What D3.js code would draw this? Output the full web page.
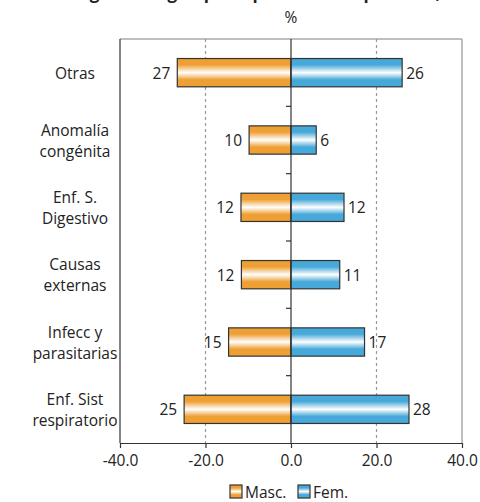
<!DOCTYPE html>
<html><head><meta charset="utf-8">
<script src="https://cdn.jsdelivr.net/npm/d3@7"></script>
<style>body{margin:0;background:#fff}svg{display:block}</style>
</head><body>
<svg id="c" width="480" height="502"></svg>
<script>
const categories = [["Otras"],["Anomalía","congénita"],["Enf. S.","Digestivo"],["Causas","externas"],["Infecc y","parasitarias"],["Enf. Sist","respiratorio"]];
const masc = [26.6, 9.8, 11.7, 11.6, 14.6, 25.0];
const fem = [26.0, 5.9, 12.4, 11.4, 17.2, 27.6];
const xTicks = [-40, -20, 0, 20, 40];
const seriesNames = ["Masc.", "Fem."];

const svg = d3.select("#c");
const font = "'Open Sans', 'DejaVu Sans', sans-serif";
const FS = 15.5;
const L = 120, R = 462, T = 39, B = 443;
const x = d3.scaleLinear().domain([-40, 40]).range([L, R]);
const y = d3.scaleBand().domain(d3.range(categories.length)).range([T, B]).paddingInner(0.58).paddingOuter(0.29);

const defs = svg.append("defs");
function grad(id, c) {
  const g = defs.append("linearGradient").attr("id", id).attr("x1", 0).attr("y1", 0).attr("x2", 0).attr("y2", 1);
  g.append("stop").attr("offset", "0%").attr("stop-color", c);
  g.append("stop").attr("offset", "22%").attr("stop-color", c);
  g.append("stop").attr("offset", "50%").attr("stop-color", "#ffffff");
  g.append("stop").attr("offset", "75%").attr("stop-color", c);
  g.append("stop").attr("offset", "100%").attr("stop-color", c);
}
grad("gO", "#efa035");
grad("gB", "#46a9d9");

// title (cut off at the top edge, as in the reference)
svg.append("text").attr("x", 282).attr("y", -1).attr("text-anchor", "middle")
  .attr("font-family", font).attr("font-weight", "bold").attr("font-size", 17).attr("fill", "#222")
  .text("Egresos según principales causas por sexo, 2012");

svg.append("text").attr("x", x(0)).attr("y", 23).attr("text-anchor", "middle")
  .attr("font-family", font).attr("font-size", FS).attr("fill", "#222").text("%");

// frame
svg.append("line").attr("x1", L).attr("x2", R).attr("y1", T).attr("y2", T).attr("stroke", "#aaa").attr("stroke-width", 1.5);
svg.append("line").attr("x1", R).attr("x2", R).attr("y1", T).attr("y2", B).attr("stroke", "#aaa").attr("stroke-width", 1.5);
svg.append("line").attr("x1", L).attr("x2", L).attr("y1", T).attr("y2", B).attr("stroke", "#333").attr("stroke-width", 1.2);

// grid
svg.selectAll(".grid").data([-20, 20]).enter().append("line")
  .attr("x1", d => x(d)).attr("x2", d => x(d)).attr("y1", T).attr("y2", B)
  .attr("stroke", "#999").attr("stroke-width", 1.2).attr("stroke-dasharray", "3,3");

// bars
const g = svg.append("g");
g.selectAll(".m").data(masc).enter().append("rect")
  .attr("x", d => x(-d)).attr("width", d => x(0) - x(-d))
  .attr("y", (d, i) => y(i)).attr("height", y.bandwidth())
  .attr("fill", "url(#gO)").attr("stroke", "#333").attr("stroke-width", 1.2);
g.selectAll(".f").data(fem).enter().append("rect")
  .attr("x", x(0)).attr("width", d => x(d) - x(0))
  .attr("y", (d, i) => y(i)).attr("height", y.bandwidth())
  .attr("fill", "url(#gB)").attr("stroke", "#333").attr("stroke-width", 1.2);

// value labels
g.selectAll(".ml").data(masc).enter().append("text")
  .attr("x", d => x(-d) - 7).attr("y", (d, i) => y(i) + y.bandwidth() / 2 + 6)
  .attr("text-anchor", "end").attr("font-family", font).attr("font-size", FS).attr("fill", "#222")
  .text(d => Math.round(d));
g.selectAll(".fl").data(fem).enter().append("text")
  .attr("x", d => x(d) + 4).attr("y", (d, i) => y(i) + y.bandwidth() / 2 + 6)
  .attr("text-anchor", "start").attr("font-family", font).attr("font-size", FS).attr("fill", "#222")
  .text(d => Math.round(d));

// center axis
svg.append("line").attr("x1", x(0)).attr("x2", x(0)).attr("y1", T).attr("y2", B).attr("stroke", "#333").attr("stroke-width", 1.2);
svg.selectAll(".ct").data(d3.range(1, categories.length)).enter().append("line")
  .attr("x1", x(0) - 5).attr("x2", x(0)).attr("y1", i => T + (B - T) * i / categories.length).attr("y2", i => T + (B - T) * i / categories.length)
  .attr("stroke", "#333").attr("stroke-width", 1.2);

// category labels
categories.forEach((lines, i) => {
  const cy = y(i) + y.bandwidth() / 2;
  const t = svg.append("text").attr("text-anchor", "middle").attr("font-family", font).attr("font-size", FS).attr("fill", "#222");
  const n = lines.length;
  lines.forEach((ln, j) => {
    t.append("tspan").attr("x", 75).attr("y", cy + 6 + (j - (n - 1) / 2) * 21).text(ln);
  });
});

// bottom axis
const fmt = d3.format(".1f");
const ax = svg.append("g").attr("transform", `translate(0,${B})`)
  .call(d3.axisBottom(x).tickValues(xTicks).tickSize(5).tickSizeOuter(0).tickFormat(d => fmt(d).replace("\u2212", "-")));
ax.select(".domain").attr("stroke", "#333").attr("stroke-width", 1.2);
ax.selectAll(".tick line").attr("stroke", "#333").attr("stroke-width", 1.2);
ax.selectAll("text").attr("font-family", font).attr("font-size", FS).attr("fill", "#222").attr("dy", "0.95em");

// legend
const lg = svg.append("g").attr("transform", "translate(230,485)");
[["url(#gO)", seriesNames[0], 0], ["url(#gB)", seriesNames[1], 68]].forEach(([f, t, dx]) => {
  lg.append("rect").attr("x", dx).attr("y", 0).attr("width", 12).attr("height", 13).attr("fill", f).attr("stroke", "#333").attr("stroke-width", 1.2);
  lg.append("text").attr("x", dx + 15).attr("y", 12.5).attr("font-family", font).attr("font-size", FS).attr("fill", "#222").text(t);
});
</script>
</body></html>
